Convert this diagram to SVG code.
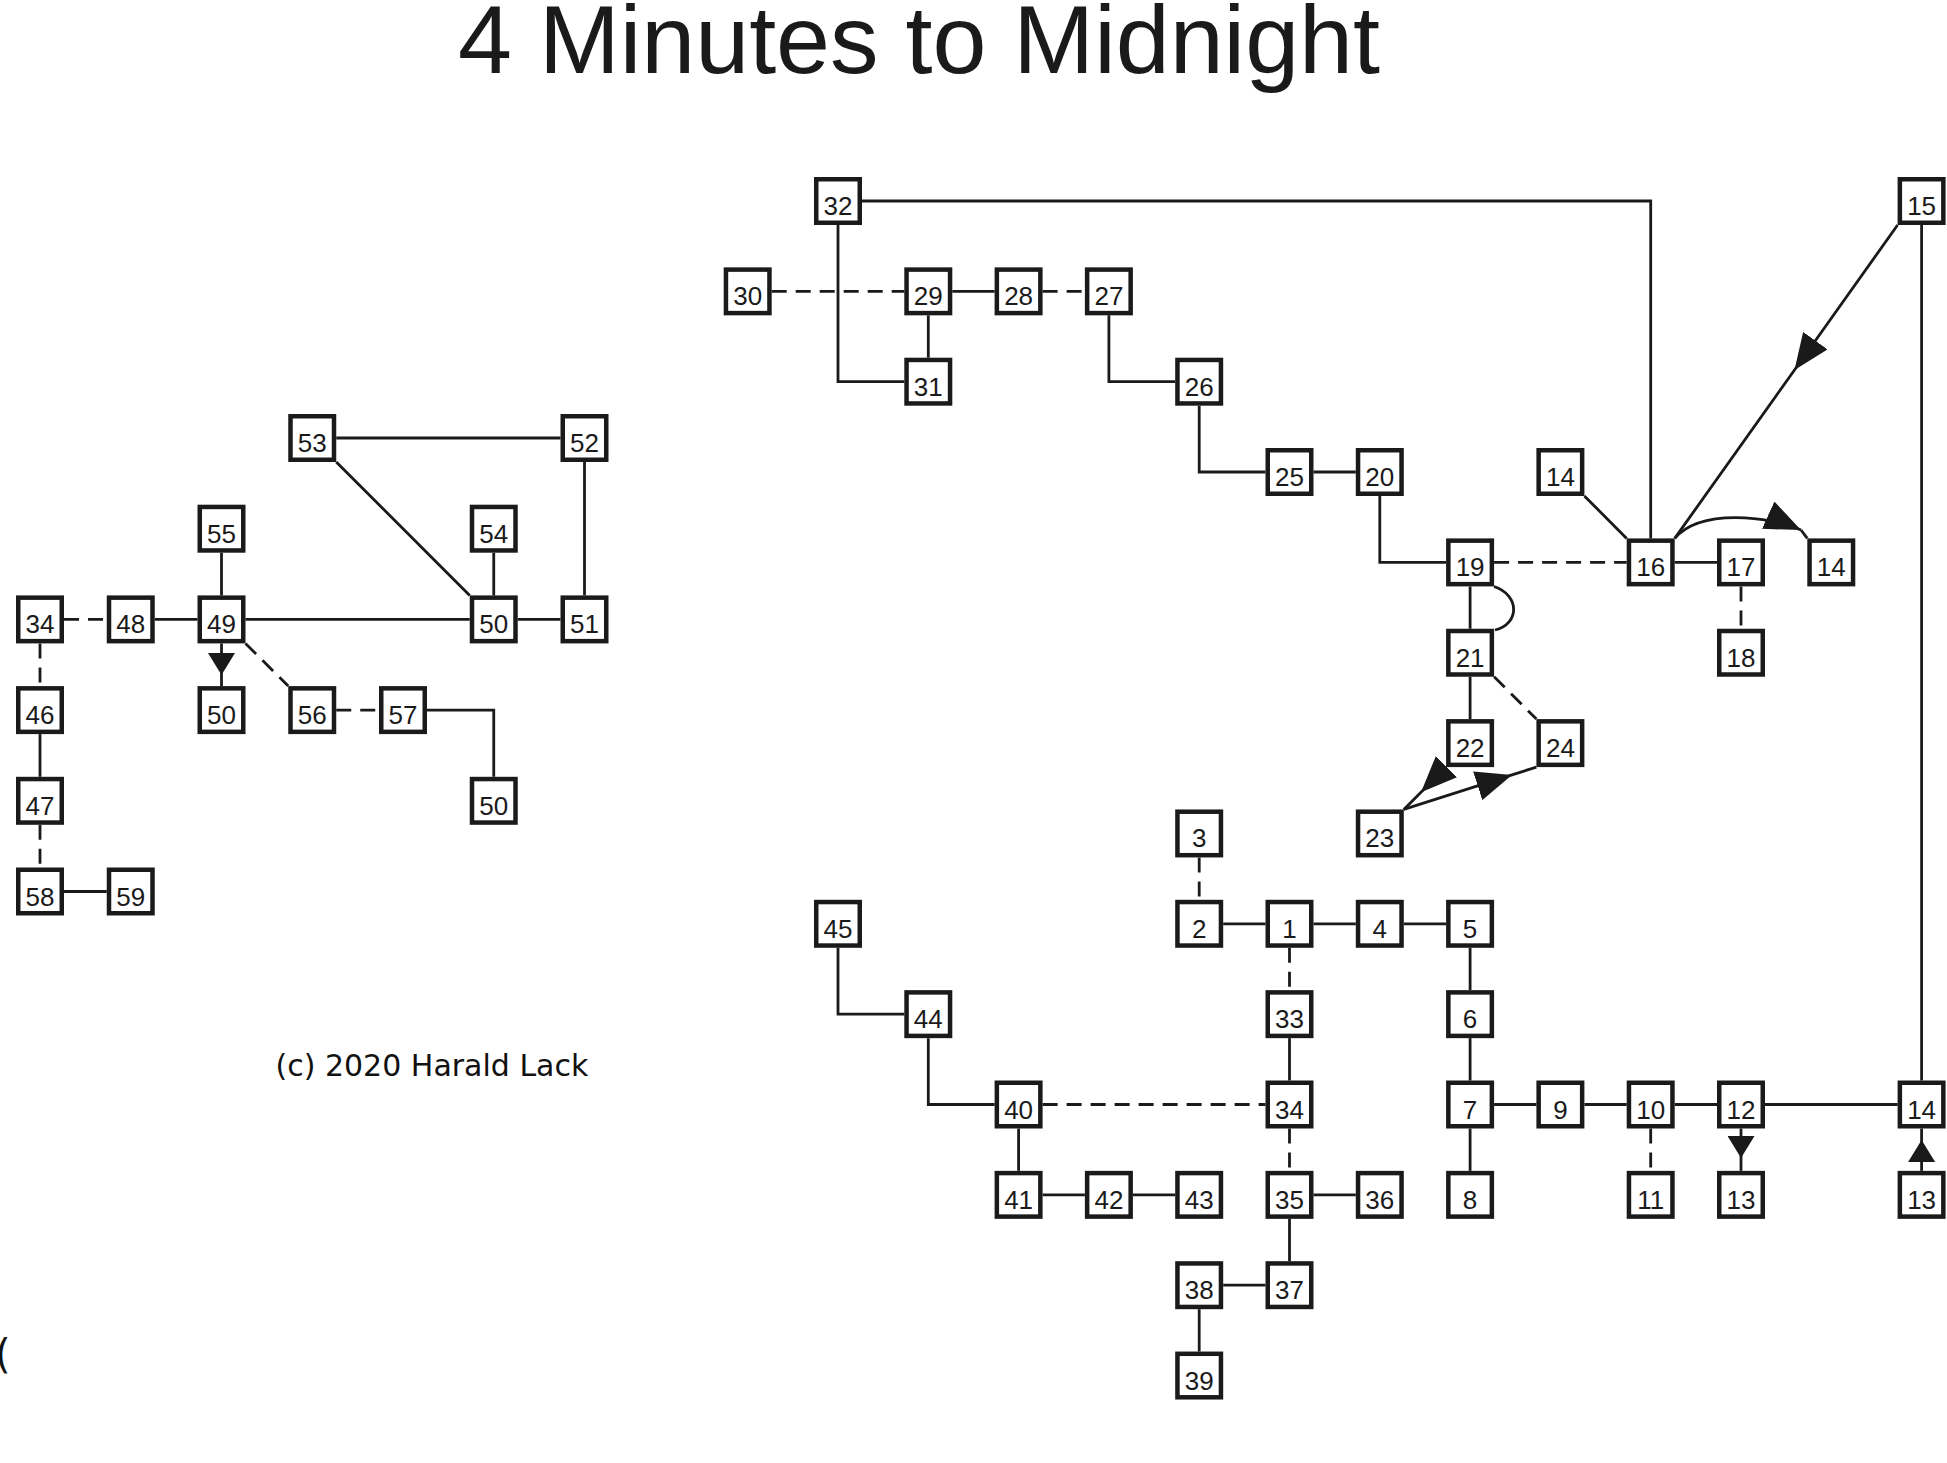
<svg xmlns="http://www.w3.org/2000/svg" width="1947" height="1463" viewBox="0 0 1947 1463">
<style>
.node rect{fill:#fff;stroke:#1a1a1a;stroke-width:4.5}
.node text{font-family:"Liberation Sans",Arial,sans-serif;font-size:26px;text-anchor:middle;fill:#1a1a1a}
.c path{fill:none;stroke:#1a1a1a;stroke-width:2.8}
.c .d{stroke-dasharray:15 9}
.title{font-family:"Liberation Sans",Arial,sans-serif;font-size:97px;fill:#1a1a1a}
.copy{font-family:"DejaVu Sans",Verdana,sans-serif;font-size:30px;fill:#111}
</style>
<defs>
<marker id="ah" viewBox="0 0 36 30" refX="36" refY="15" markerWidth="36" markerHeight="30" orient="auto" markerUnits="userSpaceOnUse"><path d="M0,0 L36,15 L0,30 Z" fill="#1a1a1a"/></marker>
<marker id="as" viewBox="0 0 22 27" refX="22" refY="13.5" markerWidth="22" markerHeight="27" orient="auto" markerUnits="userSpaceOnUse"><path d="M0,0 L22,13.5 L0,27 Z" fill="#1a1a1a"/></marker>
</defs>
<rect width="1947" height="1463" fill="#fff"/>
<text class="title" x="919" y="73" text-anchor="middle">4 Minutes to Midnight</text>
<text class="copy" x="275.5" y="1076">(c) 2020 Harald Lack</text>
<text class="copy" x="-5" y="1368" style="font-size:40px">(</text>

<g id="connectors" class="c">
<path d="M862,201 H1650.7 V538.4"/>
<path d="M838,225 V381.7 H904.3"/>
<path d="M928.3,315.35 V357.7"/>
<path d="M952.3,291.35 H994.6"/>
<path d="M1108.9,315.35 V381.7 H1175.2"/>
<path d="M1199.2,405.7 V472 H1265.5"/>
<path d="M1313.5,472 H1355.8"/>
<path d="M1379.8,496 V562.4 H1446.1"/>
<path d="M1584.4,496 L1626.7,538.4"/>
<path d="M1674.7,562.4 H1717"/>
<path d="M1921.6,225 V1080.5"/>
<path d="M1470.1,586.4 V628.75"/>
<path d="M1494,586.5 C1520,595 1520,624 1495,630"/>
<path d="M1470.1,676.75 V719.1"/>
<path d="M1223.2,923.8 H1265.5"/>
<path d="M1313.5,923.8 H1355.8"/>
<path d="M1403.8,923.8 H1446.1"/>
<path d="M1470.1,947.8 V990.15"/>
<path d="M1470.1,1038.15 V1080.5"/>
<path d="M1289.5,1038.15 V1080.5"/>
<path d="M838,947.8 V1014.15 H904.3"/>
<path d="M928.3,1038.15 V1104.5 H994.6"/>
<path d="M1018.6,1128.5 V1170.85"/>
<path d="M1042.6,1194.85 H1084.9"/>
<path d="M1132.9,1194.85 H1175.2"/>
<path d="M1313.5,1194.85 H1355.8"/>
<path d="M1289.5,1218.85 V1261.2"/>
<path d="M1223.2,1285.2 H1265.5"/>
<path d="M1199.2,1309.2 V1351.55"/>
<path d="M1494.1,1104.5 H1536.4"/>
<path d="M1584.4,1104.5 H1626.7"/>
<path d="M1674.7,1104.5 H1717"/>
<path d="M1765,1104.5 H1897.6"/>
<path d="M1470.1,1128.5 V1170.85"/>
<path class="d" d="M771.7,291.35 H904.3"/>
<path class="d" d="M1042.6,291.35 H1084.9"/>
<path class="d" d="M1494.1,562.4 H1626.7"/>
<path class="d" d="M1741,586.4 V628.75"/>
<path class="d" d="M1494.1,676.75 L1536.4,719.1"/>
<path class="d" d="M1199.2,857.45 V899.8"/>
<path class="d" d="M1289.5,947.8 V990.15"/>
<path class="d" d="M1042.6,1104.5 H1265.5"/>
<path class="d" d="M1289.5,1128.5 V1170.85"/>
<path class="d" d="M1650.7,1128.5 V1170.85"/>
<path d="M1897.6,225 L1794.5,370 L1674.7,538.4" marker-mid="url(#ah)"/>
<path d="M1674.7,538.4 C1700,508 1770,516 1801,530" marker-end="url(#ah)"/>
<path d="M1801,530 L1807.3,538.4"/>
<path d="M1446.1,767.1 L1421,792.2 L1403.8,809.45" marker-mid="url(#ah)"/>
<path d="M1403.8,809.45 L1512,774.9 L1536.4,767.1" marker-mid="url(#ah)"/>
<path d="M1741,1128.5 V1158 V1170.85" marker-mid="url(#as)"/>
<path d="M1921.6,1170.85 V1140 V1128.5" marker-mid="url(#as)"/>
<path d="M336.25,438 H560.5"/>
<path d="M336.25,462 L469.75,595.4"/>
<path d="M584.5,462 V595.4"/>
<path d="M493.75,552.7 V595.4"/>
<path d="M221.5,552.7 V595.4"/>
<path d="M245.5,619.4 H469.75"/>
<path d="M517.75,619.4 H560.5"/>
<path d="M154.75,619.4 H197.5"/>
<path d="M427,710.1 H493.75 V776.8"/>
<path d="M40,734.1 V776.8"/>
<path d="M64,891.5 H106.75"/>
<path class="d" d="M64,619.4 H106.75"/>
<path class="d" d="M40,643.4 V686.1"/>
<path class="d" d="M40,824.8 V867.5"/>
<path class="d" d="M245.5,643.4 L288.25,686.1"/>
<path class="d" d="M336.25,710.1 H379"/>
<path d="M221.5,643.4 V675 V686.1" marker-mid="url(#as)"/>
</g>

<g id="n32" class="node" transform="translate(838,201)"><rect x="-21.75" y="-21.75" width="43.5" height="43.5"/><text y="14">32</text></g>
<g id="n15" class="node" transform="translate(1921.6,201)"><rect x="-21.75" y="-21.75" width="43.5" height="43.5"/><text y="14">15</text></g>
<g id="n30" class="node" transform="translate(747.7,291.35)"><rect x="-21.75" y="-21.75" width="43.5" height="43.5"/><text y="14">30</text></g>
<g id="n29" class="node" transform="translate(928.3,291.35)"><rect x="-21.75" y="-21.75" width="43.5" height="43.5"/><text y="14">29</text></g>
<g id="n28" class="node" transform="translate(1018.6,291.35)"><rect x="-21.75" y="-21.75" width="43.5" height="43.5"/><text y="14">28</text></g>
<g id="n27" class="node" transform="translate(1108.9,291.35)"><rect x="-21.75" y="-21.75" width="43.5" height="43.5"/><text y="14">27</text></g>
<g id="n31" class="node" transform="translate(928.3,381.7)"><rect x="-21.75" y="-21.75" width="43.5" height="43.5"/><text y="14">31</text></g>
<g id="n26" class="node" transform="translate(1199.2,381.7)"><rect x="-21.75" y="-21.75" width="43.5" height="43.5"/><text y="14">26</text></g>
<g id="n25" class="node" transform="translate(1289.5,472)"><rect x="-21.75" y="-21.75" width="43.5" height="43.5"/><text y="14">25</text></g>
<g id="n20" class="node" transform="translate(1379.8,472)"><rect x="-21.75" y="-21.75" width="43.5" height="43.5"/><text y="14">20</text></g>
<g id="n14a" class="node" transform="translate(1560.4,472)"><rect x="-21.75" y="-21.75" width="43.5" height="43.5"/><text y="14">14</text></g>
<g id="n19" class="node" transform="translate(1470.1,562.4)"><rect x="-21.75" y="-21.75" width="43.5" height="43.5"/><text y="14">19</text></g>
<g id="n16" class="node" transform="translate(1650.7,562.4)"><rect x="-21.75" y="-21.75" width="43.5" height="43.5"/><text y="14">16</text></g>
<g id="n17" class="node" transform="translate(1741,562.4)"><rect x="-21.75" y="-21.75" width="43.5" height="43.5"/><text y="14">17</text></g>
<g id="n14b" class="node" transform="translate(1831.3,562.4)"><rect x="-21.75" y="-21.75" width="43.5" height="43.5"/><text y="14">14</text></g>
<g id="n21" class="node" transform="translate(1470.1,652.75)"><rect x="-21.75" y="-21.75" width="43.5" height="43.5"/><text y="14">21</text></g>
<g id="n18" class="node" transform="translate(1741,652.75)"><rect x="-21.75" y="-21.75" width="43.5" height="43.5"/><text y="14">18</text></g>
<g id="n22" class="node" transform="translate(1470.1,743.1)"><rect x="-21.75" y="-21.75" width="43.5" height="43.5"/><text y="14">22</text></g>
<g id="n24" class="node" transform="translate(1560.4,743.1)"><rect x="-21.75" y="-21.75" width="43.5" height="43.5"/><text y="14">24</text></g>
<g id="n23" class="node" transform="translate(1379.8,833.45)"><rect x="-21.75" y="-21.75" width="43.5" height="43.5"/><text y="14">23</text></g>
<g id="n3" class="node" transform="translate(1199.2,833.45)"><rect x="-21.75" y="-21.75" width="43.5" height="43.5"/><text y="14">3</text></g>
<g id="n45" class="node" transform="translate(838,923.8)"><rect x="-21.75" y="-21.75" width="43.5" height="43.5"/><text y="14">45</text></g>
<g id="n2" class="node" transform="translate(1199.2,923.8)"><rect x="-21.75" y="-21.75" width="43.5" height="43.5"/><text y="14">2</text></g>
<g id="n1" class="node" transform="translate(1289.5,923.8)"><rect x="-21.75" y="-21.75" width="43.5" height="43.5"/><text y="14">1</text></g>
<g id="n4" class="node" transform="translate(1379.8,923.8)"><rect x="-21.75" y="-21.75" width="43.5" height="43.5"/><text y="14">4</text></g>
<g id="n5" class="node" transform="translate(1470.1,923.8)"><rect x="-21.75" y="-21.75" width="43.5" height="43.5"/><text y="14">5</text></g>
<g id="n44" class="node" transform="translate(928.3,1014.15)"><rect x="-21.75" y="-21.75" width="43.5" height="43.5"/><text y="14">44</text></g>
<g id="n33" class="node" transform="translate(1289.5,1014.15)"><rect x="-21.75" y="-21.75" width="43.5" height="43.5"/><text y="14">33</text></g>
<g id="n6" class="node" transform="translate(1470.1,1014.15)"><rect x="-21.75" y="-21.75" width="43.5" height="43.5"/><text y="14">6</text></g>
<g id="n40" class="node" transform="translate(1018.6,1104.5)"><rect x="-21.75" y="-21.75" width="43.5" height="43.5"/><text y="14">40</text></g>
<g id="n34" class="node" transform="translate(1289.5,1104.5)"><rect x="-21.75" y="-21.75" width="43.5" height="43.5"/><text y="14">34</text></g>
<g id="n7" class="node" transform="translate(1470.1,1104.5)"><rect x="-21.75" y="-21.75" width="43.5" height="43.5"/><text y="14">7</text></g>
<g id="n9" class="node" transform="translate(1560.4,1104.5)"><rect x="-21.75" y="-21.75" width="43.5" height="43.5"/><text y="14">9</text></g>
<g id="n10" class="node" transform="translate(1650.7,1104.5)"><rect x="-21.75" y="-21.75" width="43.5" height="43.5"/><text y="14">10</text></g>
<g id="n12" class="node" transform="translate(1741,1104.5)"><rect x="-21.75" y="-21.75" width="43.5" height="43.5"/><text y="14">12</text></g>
<g id="n14c" class="node" transform="translate(1921.6,1104.5)"><rect x="-21.75" y="-21.75" width="43.5" height="43.5"/><text y="14">14</text></g>
<g id="n41" class="node" transform="translate(1018.6,1194.85)"><rect x="-21.75" y="-21.75" width="43.5" height="43.5"/><text y="14">41</text></g>
<g id="n42" class="node" transform="translate(1108.9,1194.85)"><rect x="-21.75" y="-21.75" width="43.5" height="43.5"/><text y="14">42</text></g>
<g id="n43" class="node" transform="translate(1199.2,1194.85)"><rect x="-21.75" y="-21.75" width="43.5" height="43.5"/><text y="14">43</text></g>
<g id="n35" class="node" transform="translate(1289.5,1194.85)"><rect x="-21.75" y="-21.75" width="43.5" height="43.5"/><text y="14">35</text></g>
<g id="n36" class="node" transform="translate(1379.8,1194.85)"><rect x="-21.75" y="-21.75" width="43.5" height="43.5"/><text y="14">36</text></g>
<g id="n8" class="node" transform="translate(1470.1,1194.85)"><rect x="-21.75" y="-21.75" width="43.5" height="43.5"/><text y="14">8</text></g>
<g id="n11" class="node" transform="translate(1650.7,1194.85)"><rect x="-21.75" y="-21.75" width="43.5" height="43.5"/><text y="14">11</text></g>
<g id="n13a" class="node" transform="translate(1741,1194.85)"><rect x="-21.75" y="-21.75" width="43.5" height="43.5"/><text y="14">13</text></g>
<g id="n13b" class="node" transform="translate(1921.6,1194.85)"><rect x="-21.75" y="-21.75" width="43.5" height="43.5"/><text y="14">13</text></g>
<g id="n37" class="node" transform="translate(1289.5,1285.2)"><rect x="-21.75" y="-21.75" width="43.5" height="43.5"/><text y="14">37</text></g>
<g id="n38" class="node" transform="translate(1199.2,1285.2)"><rect x="-21.75" y="-21.75" width="43.5" height="43.5"/><text y="14">38</text></g>
<g id="n39" class="node" transform="translate(1199.2,1375.55)"><rect x="-21.75" y="-21.75" width="43.5" height="43.5"/><text y="14">39</text></g>

<g id="n53" class="node" transform="translate(312.25,438)"><rect x="-21.75" y="-21.75" width="43.5" height="43.5"/><text y="14">53</text></g>
<g id="n52" class="node" transform="translate(584.5,438)"><rect x="-21.75" y="-21.75" width="43.5" height="43.5"/><text y="14">52</text></g>
<g id="n55" class="node" transform="translate(221.5,528.7)"><rect x="-21.75" y="-21.75" width="43.5" height="43.5"/><text y="14">55</text></g>
<g id="n54" class="node" transform="translate(493.75,528.7)"><rect x="-21.75" y="-21.75" width="43.5" height="43.5"/><text y="14">54</text></g>
<g id="nL34" class="node" transform="translate(40,619.4)"><rect x="-21.75" y="-21.75" width="43.5" height="43.5"/><text y="14">34</text></g>
<g id="n48" class="node" transform="translate(130.75,619.4)"><rect x="-21.75" y="-21.75" width="43.5" height="43.5"/><text y="14">48</text></g>
<g id="n49" class="node" transform="translate(221.5,619.4)"><rect x="-21.75" y="-21.75" width="43.5" height="43.5"/><text y="14">49</text></g>
<g id="n50a" class="node" transform="translate(493.75,619.4)"><rect x="-21.75" y="-21.75" width="43.5" height="43.5"/><text y="14">50</text></g>
<g id="n51" class="node" transform="translate(584.5,619.4)"><rect x="-21.75" y="-21.75" width="43.5" height="43.5"/><text y="14">51</text></g>
<g id="n46" class="node" transform="translate(40,710.1)"><rect x="-21.75" y="-21.75" width="43.5" height="43.5"/><text y="14">46</text></g>
<g id="n50b" class="node" transform="translate(221.5,710.1)"><rect x="-21.75" y="-21.75" width="43.5" height="43.5"/><text y="14">50</text></g>
<g id="n56" class="node" transform="translate(312.25,710.1)"><rect x="-21.75" y="-21.75" width="43.5" height="43.5"/><text y="14">56</text></g>
<g id="n57" class="node" transform="translate(403,710.1)"><rect x="-21.75" y="-21.75" width="43.5" height="43.5"/><text y="14">57</text></g>
<g id="n47" class="node" transform="translate(40,800.8)"><rect x="-21.75" y="-21.75" width="43.5" height="43.5"/><text y="14">47</text></g>
<g id="n50c" class="node" transform="translate(493.75,800.8)"><rect x="-21.75" y="-21.75" width="43.5" height="43.5"/><text y="14">50</text></g>
<g id="n58" class="node" transform="translate(40,891.5)"><rect x="-21.75" y="-21.75" width="43.5" height="43.5"/><text y="14">58</text></g>
<g id="n59" class="node" transform="translate(130.75,891.5)"><rect x="-21.75" y="-21.75" width="43.5" height="43.5"/><text y="14">59</text></g>
</svg>
